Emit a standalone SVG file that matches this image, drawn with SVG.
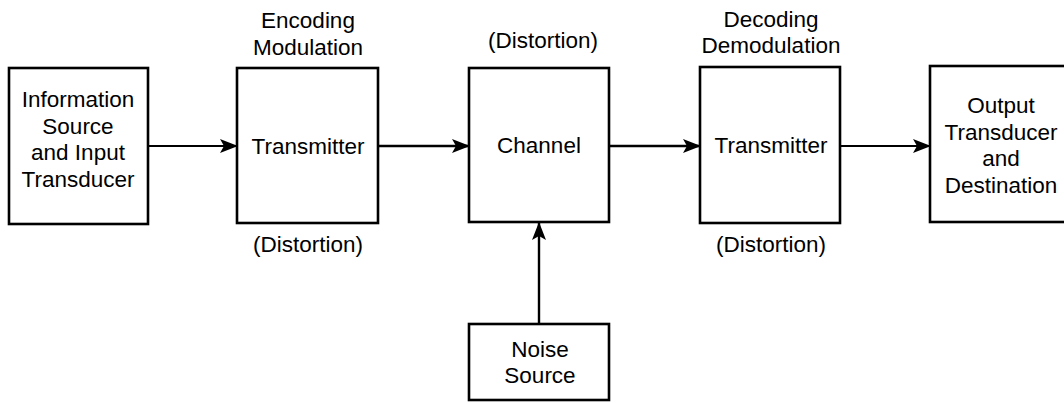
<svg xmlns="http://www.w3.org/2000/svg" width="1064" height="403" viewBox="0 0 1064 403">
<style>
.box{fill:#fff;stroke:#000;stroke-width:2.6}
text{font-family:"Liberation Sans",Arial,sans-serif;font-size:22.5px;fill:#000;text-anchor:middle}
.ln{stroke:#000;stroke-width:2.4;fill:none}
</style>
<defs>
<marker id="ah" viewBox="0 0 18 14" refX="17" refY="7" markerWidth="18" markerHeight="14" markerUnits="userSpaceOnUse" orient="auto">
<path d="M0,0 L18,7 L0,14 L4,7 Z" fill="#000"/>
</marker>
</defs>
<rect width="1064" height="403" fill="#fff"/>
<g id="connectors">
<line class="ln" x1="148" y1="146" x2="237" y2="146" marker-end="url(#ah)" style="stroke-width:1.8"/>
<line class="ln" x1="378" y1="146" x2="469" y2="146" marker-end="url(#ah)"/>
<line class="ln" x1="609" y1="146" x2="700" y2="146" marker-end="url(#ah)"/>
<line class="ln" x1="840" y1="146" x2="930" y2="146" marker-end="url(#ah)" style="stroke-width:1.8"/>
<line class="ln" x1="539" y1="324" x2="539" y2="223" marker-end="url(#ah)"/>
</g>
<g id="source">
<rect class="box" x="9" y="68" width="139" height="156"/>
<text x="78" y="107">Information</text>
<text x="78" y="134">Source</text>
<text x="78" y="160">and Input</text>
<text x="78" y="187">Transducer</text>
</g>
<g id="transmitter1">
<text x="308" y="28">Encoding</text>
<text x="308" y="55">Modulation</text>
<rect class="box" x="237" y="68" width="141" height="155"/>
<text x="308" y="154">Transmitter</text>
<text x="308" y="252">(Distortion)</text>
</g>
<g id="channel">
<text x="543" y="48">(Distortion)</text>
<rect class="box" x="469" y="68" width="140" height="154"/>
<text x="539" y="153">Channel</text>
</g>
<g id="transmitter2">
<text x="771" y="27">Decoding</text>
<text x="771" y="53">Demodulation</text>
<rect class="box" x="700" y="67" width="140" height="156"/>
<text x="771" y="153">Transmitter</text>
<text x="771" y="252">(Distortion)</text>
</g>
<g id="destination">
<rect class="box" x="930" y="66" width="140" height="156"/>
<text x="1001" y="113">Output</text>
<text x="1001" y="140">Transducer</text>
<text x="1001" y="166">and</text>
<text x="1001" y="193">Destination</text>
</g>
<g id="noise">
<rect class="box" x="469" y="324" width="140" height="76"/>
<text x="540" y="357">Noise</text>
<text x="540" y="383">Source</text>
</g>
</svg>
